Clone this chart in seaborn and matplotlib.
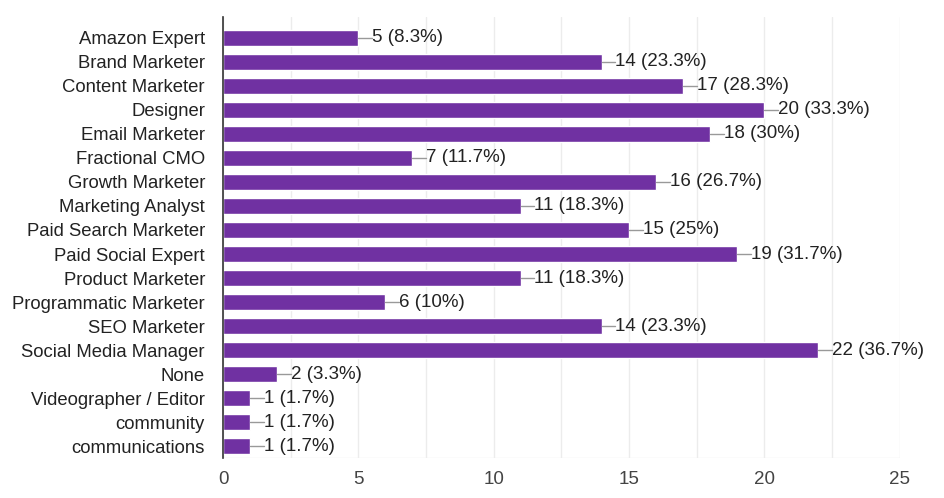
import matplotlib
matplotlib.use("Agg")
import matplotlib.pyplot as plt
import numpy as np
import pandas as pd
import seaborn as sns

roles = [
    "Amazon Expert", "Brand Marketer", "Content Marketer", "Designer",
    "Email Marketer", "Fractional CMO", "Growth Marketer", "Marketing Analyst",
    "Paid Search Marketer", "Paid Social Expert", "Product Marketer",
    "Programmatic Marketer", "SEO Marketer", "Social Media Manager", "None",
    "Videographer / Editor", "community", "communications",
]
counts = [5, 14, 17, 20, 18, 7, 16, 11, 15, 19, 11, 6, 14, 22, 2, 1, 1, 1]
pct_labels = ["8.3%", "23.3%", "28.3%", "33.3%", "30%", "11.7%", "26.7%", "18.3%",
              "25%", "31.7%", "18.3%", "10%", "23.3%", "36.7%", "3.3%", "1.7%",
              "1.7%", "1.7%"]
x_ticks = [0, 5, 10, 15, 20, 25]

df = pd.DataFrame({"role": roles, "count": counts, "pct": pct_labels})

sns.set_theme(style="white")
plt.rcParams["font.family"] = ["Liberation Sans", "DejaVu Sans"]

fig = plt.figure(figsize=(9.45, 4.98), dpi=100)
ax = fig.add_axes([0.236, 0.080, 0.716, 0.885])

sns.barplot(data=df, x="count", y="role", orient="h", color="#7031a2",
            saturation=1, width=0.68, ax=ax)

# gridlines every 2.5
for gx in np.arange(0, 25.01, 2.5):
    ax.axvline(gx, color="#ececec", lw=1, zorder=0)
ax.axhline(17.5, color="#ececec", lw=1, zorder=0)

for i, row in df.iterrows():
    ax.plot([row["count"], row["count"] + 0.5], [i, i], color="#999999", lw=1)
    ax.text(row["count"] + 0.5, i, f"{row['count']} ({row['pct']})",
            va="center", ha="left", fontsize=13.5, color="#222222")

ax.set_xlim(0, 25)
ax.set_ylim(17.5, -0.85)
ax.set_xticks(x_ticks)
ax.set_xlabel("")
ax.set_ylabel("")
ax.tick_params(axis="x", labelsize=13.5, colors="#444444", length=0, pad=9)
ax.tick_params(axis="y", labelsize=13.3, colors="#222222", length=0, pad=13)
for s in ["top", "right", "bottom"]:
    ax.spines[s].set_visible(False)
ax.spines["left"].set_color("#333333")
ax.spines["left"].set_linewidth(1.2)

plt.savefig("out.png", dpi=100)
plt.close()
